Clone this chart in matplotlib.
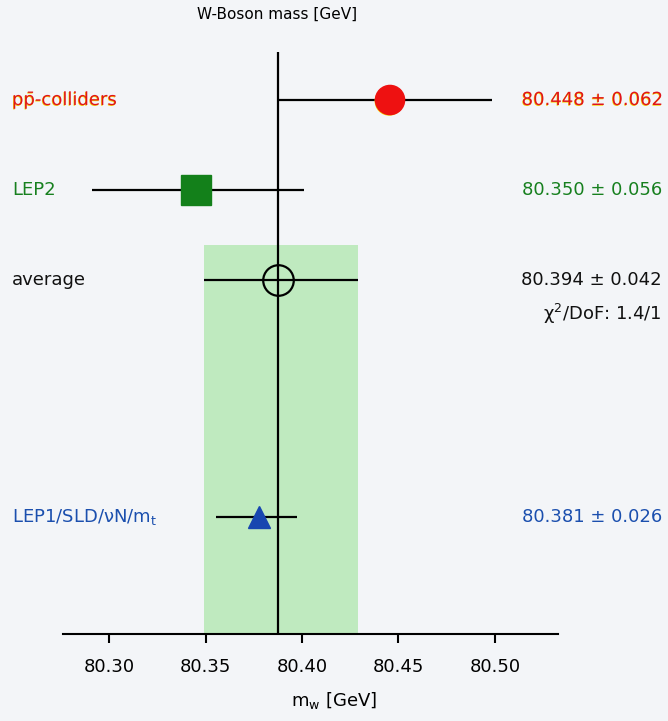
import matplotlib.pyplot as plt
import matplotlib.patheffects as pe
import matplotlib.transforms as mtrans

# rows, top to bottom
labels = ["pp\u0304-colliders", "LEP2", "average", "LEP1/SLD/\u03bdN/m$_{\\rm t}$"]
centres = [80.4456, 80.3453, 80.3876, 80.3777]
err_lo = [80.3876, 80.2912, 80.3492, 80.3554]
err_hi = [80.4985, 80.4010, 80.4290, 80.3974]
value_text = ["80.448 \u00b1 0.062", "80.350 \u00b1 0.056", "80.394 \u00b1 0.042", "80.381 \u00b1 0.026"]
colours = ["#e0141b", "#17801f", "#111111", "#1b4fae"]
xticks = [80.30, 80.35, 80.40, 80.45, 80.50]
xtick_labels = ["80.30", "80.35", "80.40", "80.45", "80.50"]

row_y = [100, 190, 280, 517]  # vertical layout of the rows (pixels from top)

fig = plt.figure(figsize=(6.68, 7.21), dpi=100)
fig.patch.set_facecolor("#f3f5f8")
ax = fig.add_axes([0, 87 / 721, 1, 634 / 721])
ax.patch.set_alpha(0)
ax.set_xlim(80.24352, 80.58964)
ax.set_ylim(634, 0)

# average band and line
ax.fill_betweenx([245, 634], err_lo[2], err_hi[2], color="#bfeabf", lw=0, zorder=0)
ax.vlines(centres[2], 52, 634, color="black", lw=1.6, zorder=3)

# error bars
ax.hlines(row_y, err_lo, err_hi, color="black", lw=1.6, zorder=2)

shadow = [pe.SimplePatchShadow(offset=(-0.6, -0.8), shadow_rgbFace="#f5d000", alpha=1), pe.Normal()]
ax.plot(centres[0], row_y[0], "o", ms=21, color="#ee1111", mec="#ee1111", zorder=4, path_effects=shadow)
ax.plot(centres[1], row_y[1], "s", ms=21, color="#13801a", mec="#13801a", zorder=4)
ax.plot(centres[2], row_y[2], "o", ms=22, mfc="none", mec="black", mew=1.6, zorder=4)
ax.plot(centres[3], row_y[3], "^", ms=16, color="#1746b0", mec="#1746b0", zorder=4)

blend = mtrans.blended_transform_factory(fig.transFigure, ax.transData)
for i in range(len(labels)):
    kw = {}
    if i == 0:
        kw["path_effects"] = [pe.withSimplePatchShadow(offset=(-0.4, -0.5), shadow_rgbFace="#f5d000", alpha=1)]
    ax.text(12 / 668, row_y[i], labels[i], transform=blend, ha="left", va="center",
            fontsize=13, color=colours[i], **kw)
    ax.text(662 / 668, row_y[i], value_text[i], transform=blend, ha="right", va="center",
            fontsize=13, color=colours[i], **kw)
ax.text(662 / 668, row_y[2] + 34, "\u03c7$^2$/DoF: 1.4/1", transform=blend, ha="right",
        va="center", fontsize=13, color="#111111")

# axis
for s in ["left", "top", "right"]:
    ax.spines[s].set_visible(False)
ax.spines["bottom"].set_bounds(80.2762, 80.5326)
ax.spines["bottom"].set_linewidth(1.5)
ax.set_yticks([])
ax.set_xticks(xticks)
ax.set_xticklabels(xtick_labels)
ax.tick_params(axis="x", length=6.5, width=1.5, direction="out", pad=11, labelsize=13)
ax.set_xlabel("m$_{\\rm w}$ [GeV]", fontsize=13, labelpad=10)

fig.text(277 / 668, 1 - 14 / 721, "W-Boson mass [GeV]", ha="center", va="center", fontsize=11)

fig.savefig("out.png", dpi=100, facecolor=fig.get_facecolor())
